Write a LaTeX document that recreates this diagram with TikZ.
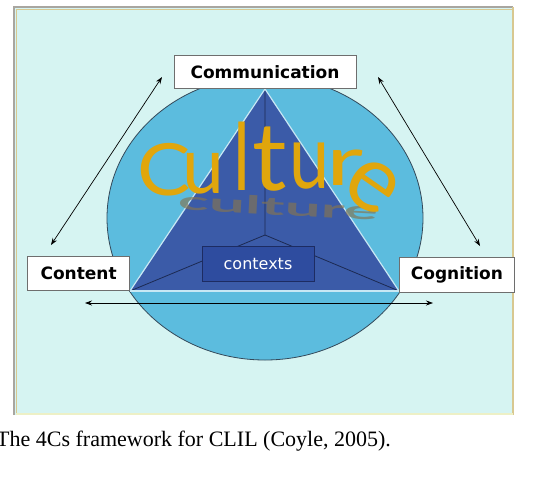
\documentclass[tikz,border=0pt]{standalone}
\usepackage{fontspec}
\usepackage{xcolor}
\usepackage{graphicx}
\setmainfont{Liberation Serif}
\newfontfamily\labelfont{DejaVu Sans}
\newfontfamily\culturefont{Lato}
\usepackage{tikz}
\usetikzlibrary{arrows.meta}
\definecolor{panelbg}{HTML}{D6F4F2}
\definecolor{edgegrey}{HTML}{A9A6A0}
\definecolor{edgetan}{HTML}{D8C890}
\definecolor{edgepale}{HTML}{EDF0C6}
\definecolor{ballblue}{HTML}{5CBCDE}
\definecolor{balledge}{HTML}{34495A}
\definecolor{pyrblue}{HTML}{3B5BA8}
\definecolor{pyredge}{HTML}{C8E8F4}
\definecolor{pyrline}{HTML}{1C2A52}
\definecolor{ctxblue}{HTML}{2E4C9F}
\definecolor{ctxedge}{HTML}{1D2C62}
\definecolor{boxgrey}{HTML}{6E6E6E}
\definecolor{gold}{HTML}{E0A60C}
\definecolor{reflect}{HTML}{857550}
\tikzset{cbox/.style={draw=boxgrey, fill=white, line width=0.8pt, inner sep=0pt, minimum height=34pt, font=\labelfont\bfseries\fontsize{17}{20}\selectfont}}
\tikzset{twoway/.style={{Stealth[length=7pt,width=5pt]}-{Stealth[length=7pt,width=5pt]}, line width=0.7pt}}
\tikzset{cletter/.style={text=gold, font=\culturefont\fontsize{60}{60}\selectfont, anchor=base, inner sep=0pt}}

\begin{document}
\begin{tikzpicture}[x=1pt,y=-1pt]
\useasboundingbox (0,0) rectangle (551,480);
% panel
\fill[panelbg] (14,7) rectangle (513,415);
\draw[edgegrey, line width=1.5pt] (14,415) -- (14,7) -- (513,7);
\draw[edgetan, line width=1pt] (16,415) -- (16,9) -- (513,9);
\draw[edgetan, line width=1.5pt] (513,7) -- (513,415);
\draw[edgepale, line width=1.5pt] (16,414) -- (513,414);
% circle
\draw[fill=ballblue, draw=balledge, line width=0.8pt] (265,218) ellipse [x radius=158, y radius=142];
% pyramid
\coordinate (apex) at (265,89);
\coordinate (bl) at (130,291);
\coordinate (br) at (399,291);
\coordinate (mid) at (265,235);
\fill[pyrblue] (apex) -- (br) -- (bl) -- cycle;
\draw[pyrline, line width=0.8pt] (apex) -- (mid) (bl) -- (mid) -- (br);
\draw[pyredge, line width=1.2pt] (bl) -- (apex) -- (br);
\draw[pyredge, line width=1.8pt] (bl) -- (br);
\node[draw=ctxedge, fill=ctxblue, line width=0.8pt, minimum width=112pt, minimum height=35pt, inner sep=0pt,
  text=white, font=\labelfont\fontsize{16}{18}\selectfont] (ctx) at (258,263.5) {contexts};
% the three Cs
\node[cbox, anchor=south, minimum width=182pt, minimum height=33pt] (comm) at (apex) {Communication};
\node[cbox, anchor=south east, minimum width=102pt] (cont) at (bl) {Content};
\node[cbox, anchor=south west, minimum width=115pt, minimum height=35pt] (cogn) at ([yshift=-2pt]br) {Cognition};
% culture
\node[text=reflect, opacity=0.65, inner sep=0pt, rotate=-3,
  font=\culturefont\bfseries\fontsize{40}{40}\selectfont] (shadow) at (278,206) {\scalebox{1.6}[0.62]{culture}};
\node[cletter] (c1) at (164,195) {\scalebox{1.33}[1.2]{C}};
\node[cletter] (c2) at (203,193) {\scalebox{1.25}[1.32]{u}};
\node[cletter] (c3) at (242,190) {\scalebox{1.2}[1.55]{l}};
\node[cletter] (c4) at (270,190) {\scalebox{1.6}[1.58]{t}};
\node[cletter] (c5) at (310,188) {\scalebox{1.2}[1.5]{u}};
\node[cletter] (c6) at (345,185) {\scalebox{1.7}[1.15]{r}};
\node[cletter, anchor=center, rotate=-35] (c7) at (372,186) {\scalebox{1.55}[1.55]{e}};
% arrows
\coordinate (l1) at (51,245);
\coordinate (l2) at (162,77);
\coordinate (r1) at (378,77);
\coordinate (r2) at (480,246);
\coordinate (b1) at (85,303);
\coordinate (b2) at (433,303);
\draw[twoway] (l1) -- (l2);
\draw[twoway] (r1) -- (r2);
\draw[twoway] (b1) -- (b2);
% caption
\node[anchor=base west, inner sep=0pt, font=\fontsize{22}{26}\selectfont] (caption) at (-4,446) {The 4Cs framework for CLIL (Coyle, 2005).};
\end{tikzpicture}
\end{document}
